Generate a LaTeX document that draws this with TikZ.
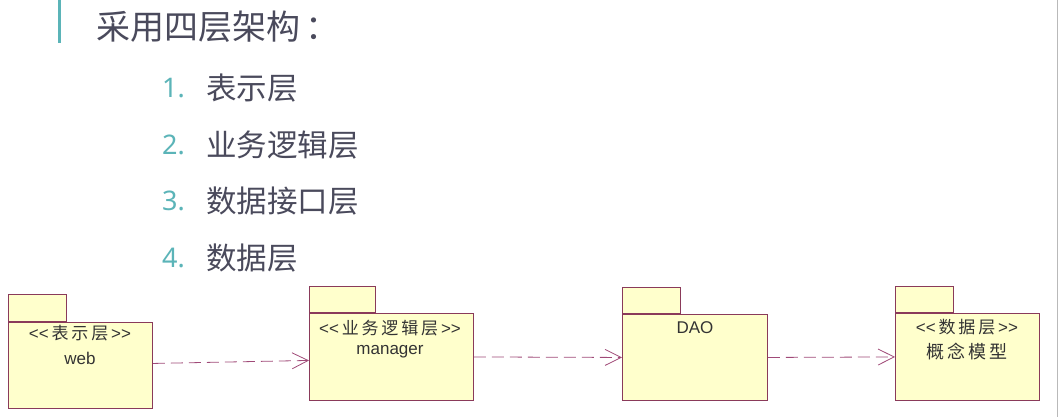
\documentclass[tikz,border=0pt]{standalone}
\usepackage{fontspec}
\setmainfont{Liberation Sans}
\newfontfamily\cjk{Noto Sans CJK SC}
\newfontfamily\numfont{Noto Sans}
\usetikzlibrary{arrows.meta}
\definecolor{titlec}{HTML}{4A4A5C}
\definecolor{tealc}{HTML}{5BB4B8}
\definecolor{boxline}{HTML}{8A3A5A}
\definecolor{boxfill}{HTML}{FFFFCC}
\definecolor{depc}{HTML}{A04A78}
\definecolor{boxtext}{HTML}{333333}
\newcommand{\lt}{<\kern0pt<}
\newcommand{\gtt}{>\kern0pt>}
\tikzset{
  pkgbody/.style={draw=boxline, fill=boxfill, line width=0.9pt, inner sep=0pt, anchor=north west},
  pkgtab/.style={draw=boxline, fill=boxfill, line width=0.9pt, inner sep=0pt, anchor=south west},
  ptext/.style={inner sep=0pt, text=boxtext, font=\fontsize{17}{20}\selectfont},
  numtext/.style={inner sep=0pt, anchor=west, text=tealc, font=\numfont\fontsize{27}{32}\selectfont},
  itemtext/.style={inner sep=0pt, anchor=west, text=titlec, font=\cjk\fontsize{30.5}{36}\selectfont},
  dep/.style={draw=depc, line width=0.8pt, dash pattern=on 12pt off 6pt, -{Straight Barb[length=16pt,width=16pt,line width=0.8pt]}}
}
\begin{document}
\begin{tikzpicture}[x=1pt,y=-1pt]
\useasboundingbox (0,0) rectangle (1061,417);
\fill[white] (0,0) rectangle (1061,417);
% decorations
\fill[tealc] (57.5,0) rectangle (61,43);
\draw[gray!55, line width=1pt] (1057,0) -- (1057,417);
% title
\node[inner sep=0pt, anchor=west, text=titlec, font=\cjk\fontsize{34}{40}\selectfont] (title) at (96,27) {采用四层架构\,：};
% list
\node[numtext] (n1) at (162,88) {1.};
\node[itemtext] (i1) at (206,88) {表示层};
\node[numtext] (n2) at (162,145) {2.};
\node[itemtext] (i2) at (206,145) {业务逻辑层};
\node[numtext] (n3) at (162,201) {3.};
\node[itemtext] (i3) at (206,201) {数据接口层};
\node[numtext] (n4) at (162,258) {4.};
\node[itemtext] (i4) at (206,258) {数据层};
% packages
\node[pkgbody, minimum width=144pt, minimum height=86pt] (b1) at (8,322) {};
\node[pkgtab, minimum width=58pt, minimum height=27pt] (t1) at (b1.north west) {};
\node[pkgbody, minimum width=164pt, minimum height=87pt] (b2) at (309,313) {};
\node[pkgtab, minimum width=66pt, minimum height=26pt] (t2) at (b2.north west) {};
\node[pkgbody, minimum width=145pt, minimum height=86pt] (b3) at (622,314) {};
\node[pkgtab, minimum width=58pt, minimum height=26pt] (t3) at (b3.north west) {};
\node[pkgbody, minimum width=144pt, minimum height=87pt] (b4) at (895,313) {};
\node[pkgtab, minimum width=58pt, minimum height=26pt] (t4) at (b4.north west) {};
% package texts
\node[ptext] (s1) at (80,333) {\lt{\cjk\,表\,示\,层\,}\gtt};
\node[ptext] (w1) at (80,358) {web};
\node[ptext] (s2) at (390,328) {\lt{\cjk\,业\,务\,逻\,辑\,层\,}\gtt};
\node[ptext] (w2) at (390,352) {manager};
\node[ptext] (w3) at (695,328) {DAO};
\node[ptext] (s4) at (967,327) {\lt{\cjk\,数\,据\,层\,}\gtt};
\node[ptext, font=\cjk\fontsize{18}{21}\selectfont] (w4) at (967,352) {概\,念\,模\,型};
% dependencies
\draw[dep] ([yshift=2pt]b1.east) -- ([yshift=-3.5pt]b2.west);
\draw[dep] (b2.east) -- (b3.west);
\draw[dep] (b3.east) -- (b4.west);
\end{tikzpicture}
\end{document}
